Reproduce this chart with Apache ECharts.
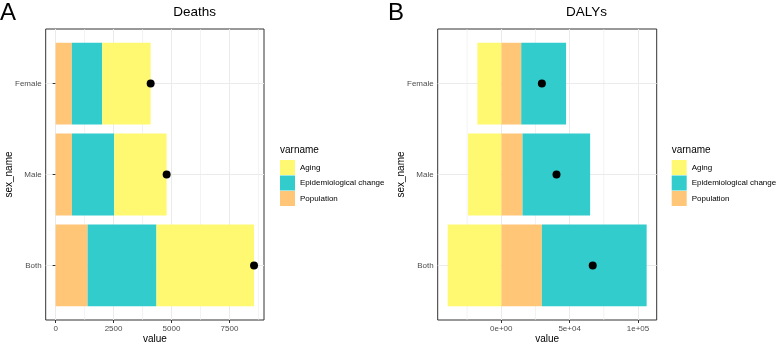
<!DOCTYPE html>
<html lang="en">
<head>
    <meta charset="UTF-8">
    <title>Deaths and DALYs decomposition</title>
    <script src="https://cdn.jsdelivr.net/npm/echarts@6/dist/echarts.min.js"></script>
    <style>
        html, body { margin: 0; padding: 0; background: #fff; }
        #chart { width: 778px; height: 344px; }
    </style>
</head>
<body>
<div id="chart"></div>
<script>
    // categories, bottom to top (ggplot y = 1, 2, 3)
    var sexNames = ['Both', 'Male', 'Female'];
    var varNames = ['Aging', 'Epidemiological change', 'Population'];

    // A: Deaths
    var deathsPopulation = [1380, 705, 700];
    var deathsEpi = [2970, 1825, 1310];
    var deathsAging = [4210, 2260, 2090];
    var deathsTotal = [8560, 4790, 4100];

    // B: DALYs
    var dalysPopulation = [29700, 15550, 14600];
    var dalysEpi = [76650, 49450, 32800];
    var dalysAging = [-39200, -24300, -17500];
    var dalysTotal = [66900, 40400, 29700];

    // tick labels
    var deathsTicks = [0, 2500, 5000, 7500];
    var deathsMinor = [1250, 3750, 6250, 8750];
    var dalysTicks = [0, 50000, 100000];
    var dalysTickLabels = ['0e+00', '5e+04', '1e+05'];
    var dalysMinor = [-25000, 25000, 75000];

    var colors = { 'Aging': '#FFF972', 'Epidemiological change': '#33CCCC', 'Population': '#FFC678' };
    var yMin = 0.4, yMax = 3.6;
    var font = '"Liberation Sans", Arial, Helvetica, sans-serif';

    // stack segments same-sign, in order Population -> Epi -> Aging
    function stackSegments(list) {
        var pos = [0, 0, 0], neg = [0, 0, 0];
        return list.map(function (vals) {
            return vals.map(function (v, i) {
                var base = v >= 0 ? pos[i] : neg[i];
                if (v >= 0) pos[i] += v; else neg[i] += v;
                return [base, base + v, i + 1];
            });
        });
    }

    function renderBar(params, api) {
        var a = api.coord([api.value(0), api.value(2)]);
        var b = api.coord([api.value(1), api.value(2)]);
        var h = api.size([0, 0.9])[1];
        return {
            type: 'rect',
            shape: { x: Math.min(a[0], b[0]), y: a[1] - h / 2, width: Math.abs(b[0] - a[0]), height: h },
            style: api.style()
        };
    }

    function renderMinor(params, api) {
        var t = api.coord([api.value(0), yMax]);
        var b = api.coord([api.value(0), yMin]);
        return {
            type: 'line',
            shape: { x1: t[0], y1: t[1], x2: b[0], y2: b[1] },
            style: { stroke: '#EBEBEB', lineWidth: 0.6 }
        };
    }

    function xAxisFor(idx, min, max, ticks, fmt) {
        return {
            type: 'value', gridIndex: idx, min: min, max: max,
            name: 'value', nameLocation: 'middle', nameGap: 14, nameMoveOverlap: false,
            nameTextStyle: { fontSize: 10, color: '#000', fontFamily: font },
            axisLine: { show: false },
            axisTick: { show: true, length: 3, customValues: ticks, lineStyle: { color: '#333' } },
            axisLabel: { customValues: ticks, fontSize: 8, color: '#4D4D4D', margin: 5, fontFamily: font, formatter: fmt },
            splitLine: { show: true, lineStyle: { color: '#EBEBEB', width: 1 } }
        };
    }

    function yAxisFor(idx) {
        return {
            type: 'value', gridIndex: idx, min: yMin, max: yMax,
            name: 'sex_name', nameLocation: 'middle', nameGap: 31, nameMoveOverlap: false,
            nameTextStyle: { fontSize: 10, color: '#000', fontFamily: font },
            axisLine: { show: false },
            axisTick: { show: true, length: 3, customValues: [1, 2, 3], lineStyle: { color: '#333' } },
            axisLabel: {
                customValues: [1, 2, 3], fontSize: 8, color: '#4D4D4D', margin: 4, fontFamily: font,
                formatter: function (v) { return sexNames[Math.round(v) - 1]; }
            },
            splitLine: { show: true, lineStyle: { color: '#EBEBEB', width: 1 } }
        };
    }

    function panelSeries(idx, pop, epi, aging, total, minor) {
        var segs = stackSegments([pop, epi, aging]);
        var names = ['Population', 'Epidemiological change', 'Aging'];
        var out = [{
            type: 'custom', xAxisIndex: idx, yAxisIndex: idx, z: 1, silent: true,
            renderItem: renderMinor, encode: { x: 0 },
            data: minor.map(function (v) { return [v]; })
        }];
        names.forEach(function (n, k) {
            out.push({
                name: n, type: 'custom', xAxisIndex: idx, yAxisIndex: idx, z: 2,
                renderItem: renderBar, encode: { x: [0, 1], y: 2 },
                itemStyle: { color: colors[n] },
                data: segs[k]
            });
        });
        out.push({
            name: 'total', type: 'scatter', xAxisIndex: idx, yAxisIndex: idx, z: 5,
            symbolSize: 8, itemStyle: { color: '#000', opacity: 1 },
            data: total.map(function (v, i) { return [v, i + 1]; })
        });
        return out;
    }

    function legendAt(left) {
        return {
            left: left, top: 160, orient: 'vertical', padding: 0,
            itemWidth: 15, itemHeight: 15, itemGap: 0.5, icon: 'rect', selectedMode: false,
            textStyle: { fontSize: 8, color: '#000', fontFamily: font },
            data: varNames.map(function (n) { return { name: n, itemStyle: { color: colors[n] } }; })
        };
    }

    var myChart = echarts.init(document.getElementById('chart'));
    myChart.setOption({
        animation: false,
        textStyle: { fontFamily: font },
        grid: [
            { left: 45.7, top: 29, width: 218.3, height: 291, outerBoundsMode: 'none', containLabel: false,
              show: true, borderColor: '#333', borderWidth: 1 },
            { left: 437.7, top: 29, width: 219, height: 291, outerBoundsMode: 'none', containLabel: false,
              show: true, borderColor: '#333', borderWidth: 1 }
        ],
        xAxis: [
            xAxisFor(0, -428, 8990, deathsTicks, function (v) { return String(v); }),
            xAxisFor(1, -46500, 113700, dalysTicks, function (v) { return dalysTickLabels[dalysTicks.indexOf(v)]; })
        ],
        yAxis: [yAxisFor(0), yAxisFor(1)],
        legend: [legendAt(280), legendAt(671.7)],
        graphic: [
            { type: 'text', x: 0, y: 13, style: { text: 'A', font: '24px ' + font, fill: '#000', verticalAlign: 'middle' } },
            { type: 'text', x: 388, y: 13, style: { text: 'B', font: '24px ' + font, fill: '#000', verticalAlign: 'middle' } },
            { type: 'text', x: 194.6, y: 12, style: { text: 'Deaths', font: '13.5px ' + font, fill: '#000', align: 'center', verticalAlign: 'middle' } },
            { type: 'text', x: 586.5, y: 12, style: { text: 'DALYs', font: '13.5px ' + font, fill: '#000', align: 'center', verticalAlign: 'middle' } },
            { type: 'text', x: 280, y: 150.3, style: { text: 'varname', font: '10px ' + font, fill: '#000', verticalAlign: 'middle' } },
            { type: 'text', x: 671.7, y: 150.3, style: { text: 'varname', font: '10px ' + font, fill: '#000', verticalAlign: 'middle' } }
        ],
        series: panelSeries(0, deathsPopulation, deathsEpi, deathsAging, deathsTotal, deathsMinor)
            .concat(panelSeries(1, dalysPopulation, dalysEpi, dalysAging, dalysTotal, dalysMinor))
    });
</script>
</body>
</html>
